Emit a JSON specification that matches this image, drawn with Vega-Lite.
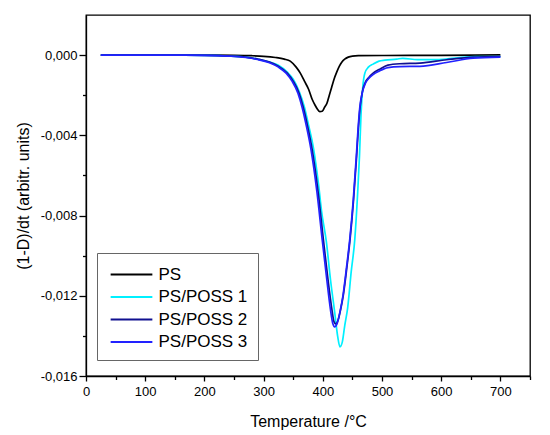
{
  "$schema": "https://vega.github.io/schema/vega-lite/v6.json",
  "width": 444,
  "height": 361,
  "autosize": {"type": "none"},
  "padding": {"left": 86, "top": 15, "right": 20, "bottom": 59},
  "background": "white",
  "data": {
    "values": [
      {"s": "PS", "T": 25, "v": 0},
      {"s": "PS", "T": 100, "v": 0},
      {"s": "PS", "T": 200, "v": 0},
      {"s": "PS", "T": 250, "v": -0.00001},
      {"s": "PS", "T": 280, "v": -0.00003},
      {"s": "PS", "T": 300, "v": -0.00006},
      {"s": "PS", "T": 320, "v": -0.00012},
      {"s": "PS", "T": 335, "v": -0.0002},
      {"s": "PS", "T": 345, "v": -0.0003},
      {"s": "PS", "T": 355, "v": -0.0006},
      {"s": "PS", "T": 362, "v": -0.0009},
      {"s": "PS", "T": 369, "v": -0.0013},
      {"s": "PS", "T": 376, "v": -0.0017},
      {"s": "PS", "T": 382, "v": -0.0022},
      {"s": "PS", "T": 387, "v": -0.0025},
      {"s": "PS", "T": 391, "v": -0.0027},
      {"s": "PS", "T": 395, "v": -0.00282},
      {"s": "PS", "T": 399, "v": -0.0028},
      {"s": "PS", "T": 403, "v": -0.0026},
      {"s": "PS", "T": 407, "v": -0.0024},
      {"s": "PS", "T": 411, "v": -0.002},
      {"s": "PS", "T": 415, "v": -0.0016},
      {"s": "PS", "T": 419, "v": -0.0012},
      {"s": "PS", "T": 423.5, "v": -0.00085},
      {"s": "PS", "T": 428, "v": -0.00055},
      {"s": "PS", "T": 432, "v": -0.00035},
      {"s": "PS", "T": 437, "v": -0.0002},
      {"s": "PS", "T": 443, "v": -0.0001},
      {"s": "PS", "T": 450, "v": -0.00005},
      {"s": "PS", "T": 460, "v": -0.00003},
      {"s": "PS", "T": 500, "v": -0.00002},
      {"s": "PS", "T": 600, "v": -0.00001},
      {"s": "PS", "T": 700, "v": 0.00001},

      {"s": "PS/POSS 1", "T": 25, "v": 0},
      {"s": "PS/POSS 1", "T": 100, "v": 0},
      {"s": "PS/POSS 1", "T": 150, "v": 0},
      {"s": "PS/POSS 1", "T": 200, "v": -0.00001},
      {"s": "PS/POSS 1", "T": 240, "v": -0.00004},
      {"s": "PS/POSS 1", "T": 270, "v": -0.0001},
      {"s": "PS/POSS 1", "T": 290, "v": -0.0002},
      {"s": "PS/POSS 1", "T": 310, "v": -0.00035},
      {"s": "PS/POSS 1", "T": 325, "v": -0.0005},
      {"s": "PS/POSS 1", "T": 340, "v": -0.00085},
      {"s": "PS/POSS 1", "T": 350, "v": -0.0012},
      {"s": "PS/POSS 1", "T": 360, "v": -0.0018},
      {"s": "PS/POSS 1", "T": 369, "v": -0.0026},
      {"s": "PS/POSS 1", "T": 376, "v": -0.0035},
      {"s": "PS/POSS 1", "T": 384, "v": -0.0046},
      {"s": "PS/POSS 1", "T": 393, "v": -0.0065},
      {"s": "PS/POSS 1", "T": 398, "v": -0.0078},
      {"s": "PS/POSS 1", "T": 406, "v": -0.0093},
      {"s": "PS/POSS 1", "T": 413, "v": -0.0112},
      {"s": "PS/POSS 1", "T": 420, "v": -0.0128},
      {"s": "PS/POSS 1", "T": 425, "v": -0.014},
      {"s": "PS/POSS 1", "T": 429, "v": -0.01455},
      {"s": "PS/POSS 1", "T": 433, "v": -0.0143},
      {"s": "PS/POSS 1", "T": 437, "v": -0.0135},
      {"s": "PS/POSS 1", "T": 442, "v": -0.0126},
      {"s": "PS/POSS 1", "T": 448, "v": -0.0108},
      {"s": "PS/POSS 1", "T": 454, "v": -0.0092},
      {"s": "PS/POSS 1", "T": 459, "v": -0.0068},
      {"s": "PS/POSS 1", "T": 462, "v": -0.005},
      {"s": "PS/POSS 1", "T": 464.5, "v": -0.003},
      {"s": "PS/POSS 1", "T": 467.5, "v": -0.0016},
      {"s": "PS/POSS 1", "T": 471, "v": -0.0009},
      {"s": "PS/POSS 1", "T": 477, "v": -0.0006},
      {"s": "PS/POSS 1", "T": 485, "v": -0.00045},
      {"s": "PS/POSS 1", "T": 495, "v": -0.0003},
      {"s": "PS/POSS 1", "T": 505, "v": -0.00025},
      {"s": "PS/POSS 1", "T": 525, "v": -0.0002},
      {"s": "PS/POSS 1", "T": 535, "v": -0.00016},
      {"s": "PS/POSS 1", "T": 560, "v": -0.00023},
      {"s": "PS/POSS 1", "T": 585, "v": -0.00023},
      {"s": "PS/POSS 1", "T": 623, "v": -0.00015},
      {"s": "PS/POSS 1", "T": 657, "v": -0.00007},
      {"s": "PS/POSS 1", "T": 700, "v": -0.00007},

      {"s": "PS/POSS 2", "T": 25, "v": 0},
      {"s": "PS/POSS 2", "T": 100, "v": 0},
      {"s": "PS/POSS 2", "T": 150, "v": 0},
      {"s": "PS/POSS 2", "T": 200, "v": -0.00001},
      {"s": "PS/POSS 2", "T": 240, "v": -0.00004},
      {"s": "PS/POSS 2", "T": 270, "v": -0.0001},
      {"s": "PS/POSS 2", "T": 290, "v": -0.0002},
      {"s": "PS/POSS 2", "T": 310, "v": -0.00035},
      {"s": "PS/POSS 2", "T": 325, "v": -0.00055},
      {"s": "PS/POSS 2", "T": 340, "v": -0.0009},
      {"s": "PS/POSS 2", "T": 350, "v": -0.0013},
      {"s": "PS/POSS 2", "T": 360, "v": -0.0019},
      {"s": "PS/POSS 2", "T": 367, "v": -0.0026},
      {"s": "PS/POSS 2", "T": 374, "v": -0.0035},
      {"s": "PS/POSS 2", "T": 382, "v": -0.0047},
      {"s": "PS/POSS 2", "T": 392, "v": -0.0068},
      {"s": "PS/POSS 2", "T": 401, "v": -0.0092},
      {"s": "PS/POSS 2", "T": 408, "v": -0.011},
      {"s": "PS/POSS 2", "T": 415, "v": -0.0126},
      {"s": "PS/POSS 2", "T": 419, "v": -0.0133},
      {"s": "PS/POSS 2", "T": 422, "v": -0.0134},
      {"s": "PS/POSS 2", "T": 426, "v": -0.0132},
      {"s": "PS/POSS 2", "T": 430, "v": -0.0127},
      {"s": "PS/POSS 2", "T": 435, "v": -0.0119},
      {"s": "PS/POSS 2", "T": 441, "v": -0.0105},
      {"s": "PS/POSS 2", "T": 446, "v": -0.0092},
      {"s": "PS/POSS 2", "T": 452, "v": -0.0072},
      {"s": "PS/POSS 2", "T": 457, "v": -0.0051},
      {"s": "PS/POSS 2", "T": 460, "v": -0.0037},
      {"s": "PS/POSS 2", "T": 463, "v": -0.0026},
      {"s": "PS/POSS 2", "T": 467, "v": -0.0018},
      {"s": "PS/POSS 2", "T": 472, "v": -0.00135},
      {"s": "PS/POSS 2", "T": 478, "v": -0.0011},
      {"s": "PS/POSS 2", "T": 485, "v": -0.0009},
      {"s": "PS/POSS 2", "T": 495, "v": -0.00072},
      {"s": "PS/POSS 2", "T": 510, "v": -0.0005},
      {"s": "PS/POSS 2", "T": 530, "v": -0.00043},
      {"s": "PS/POSS 2", "T": 564, "v": -0.0004},
      {"s": "PS/POSS 2", "T": 609, "v": -0.00023},
      {"s": "PS/POSS 2", "T": 654, "v": -0.0001},
      {"s": "PS/POSS 2", "T": 700, "v": -0.00007},

      {"s": "PS/POSS 3", "T": 25, "v": 0},
      {"s": "PS/POSS 3", "T": 100, "v": 0},
      {"s": "PS/POSS 3", "T": 150, "v": 0},
      {"s": "PS/POSS 3", "T": 200, "v": -0.00001},
      {"s": "PS/POSS 3", "T": 240, "v": -0.00005},
      {"s": "PS/POSS 3", "T": 270, "v": -0.00012},
      {"s": "PS/POSS 3", "T": 290, "v": -0.00022},
      {"s": "PS/POSS 3", "T": 310, "v": -0.00038},
      {"s": "PS/POSS 3", "T": 325, "v": -0.0006},
      {"s": "PS/POSS 3", "T": 338, "v": -0.0009},
      {"s": "PS/POSS 3", "T": 348, "v": -0.0013},
      {"s": "PS/POSS 3", "T": 358, "v": -0.0019},
      {"s": "PS/POSS 3", "T": 365, "v": -0.0026},
      {"s": "PS/POSS 3", "T": 372, "v": -0.0035},
      {"s": "PS/POSS 3", "T": 380, "v": -0.0047},
      {"s": "PS/POSS 3", "T": 390, "v": -0.0068},
      {"s": "PS/POSS 3", "T": 399, "v": -0.0092},
      {"s": "PS/POSS 3", "T": 406, "v": -0.011},
      {"s": "PS/POSS 3", "T": 413, "v": -0.0127},
      {"s": "PS/POSS 3", "T": 417, "v": -0.0134},
      {"s": "PS/POSS 3", "T": 420, "v": -0.01355},
      {"s": "PS/POSS 3", "T": 424, "v": -0.0134},
      {"s": "PS/POSS 3", "T": 429, "v": -0.0128},
      {"s": "PS/POSS 3", "T": 434, "v": -0.012},
      {"s": "PS/POSS 3", "T": 440, "v": -0.0106},
      {"s": "PS/POSS 3", "T": 445.5, "v": -0.0092},
      {"s": "PS/POSS 3", "T": 451.5, "v": -0.0072},
      {"s": "PS/POSS 3", "T": 456.5, "v": -0.0051},
      {"s": "PS/POSS 3", "T": 459.5, "v": -0.0037},
      {"s": "PS/POSS 3", "T": 462.5, "v": -0.0026},
      {"s": "PS/POSS 3", "T": 466.5, "v": -0.0019},
      {"s": "PS/POSS 3", "T": 472, "v": -0.0014},
      {"s": "PS/POSS 3", "T": 478, "v": -0.00115},
      {"s": "PS/POSS 3", "T": 485, "v": -0.00097},
      {"s": "PS/POSS 3", "T": 495, "v": -0.0008},
      {"s": "PS/POSS 3", "T": 510, "v": -0.00062},
      {"s": "PS/POSS 3", "T": 530, "v": -0.00057},
      {"s": "PS/POSS 3", "T": 564, "v": -0.00056},
      {"s": "PS/POSS 3", "T": 609, "v": -0.00037},
      {"s": "PS/POSS 3", "T": 654, "v": -0.00015},
      {"s": "PS/POSS 3", "T": 700, "v": -0.0001}
    ]
  },
  "mark": {"type": "line", "interpolate": "monotone", "strokeWidth": 1.7, "clip": true},
  "encoding": {
    "x": {
      "field": "T",
      "type": "quantitative",
      "title": "Temperature /°C",
      "scale": {"domain": [0, 750], "nice": false, "zero": false},
      "axis": {
        "values": [0, 50, 100, 150, 200, 250, 300, 350, 400, 450, 500, 550, 600, 650, 700, 750],
        "labelExpr": "datum.value % 100 == 0 ? datum.label : ''",
        "tickSize": {"condition": {"test": "datum.value % 100 == 0", "value": 5}, "value": 3.5},
        "labelOverlap": false,
        "labelFlush": false,
        "labelPadding": 4,
        "titlePadding": 15
      }
    },
    "y": {
      "field": "v",
      "type": "quantitative",
      "title": "(1-D)/dt (arbitr. units)",
      "scale": {"domain": [-0.016, 0.002], "nice": false, "zero": false},
      "axis": {
        "values": [-0.016, -0.014, -0.012, -0.01, -0.008, -0.006, -0.004, -0.002, 0],
        "labelExpr": "abs(datum.value * 250 - round(datum.value * 250)) < 0.01 ? replace(replace(format(datum.value, '.3f'), '.', ','), '\u2212', '-') : ''",
        "tickSize": {"condition": {"test": "abs(datum.value * 250 - round(datum.value * 250)) < 0.01", "value": 7}, "value": 3.5},
        "labelOverlap": false,
        "labelPadding": 2,
        "titlePadding": 9
      }
    },
    "color": {
      "field": "s",
      "type": "nominal",
      "title": null,
      "scale": {
        "domain": ["PS", "PS/POSS 1", "PS/POSS 2", "PS/POSS 3"],
        "range": ["#000000", "#00f0ff", "#101090", "#2222ff"]
      },
      "legend": {
        "orient": "none",
        "legendX": 11,
        "legendY": 238,
        "symbolType": "M-2,0H2",
        "symbolSize": 435,
        "symbolStrokeWidth": 2,
        "symbolOffset": 13,
        "labelFontSize": 17,
        "labelOffset": 15.5,
        "rowPadding": 2.5,
        "padding": 10,
        "fillColor": "white",
        "strokeColor": "#666666"
      }
    }
  },
  "config": {
    "font": "Liberation Sans",
    "view": {"stroke": "#000000", "strokeWidth": 1.3},
    "axis": {
      "grid": false,
      "domainColor": "#000000",
      "domainWidth": 1.3,
      "tickColor": "#000000",
      "tickWidth": 1.3,
      "labelColor": "#000000",
      "labelFontSize": 13,
      "titleColor": "#000000",
      "titleFontSize": 16,
      "titleFontWeight": "normal"
    },
    "legend": {"labelColor": "#000000", "labelFont": "Liberation Sans"}
  }
}
